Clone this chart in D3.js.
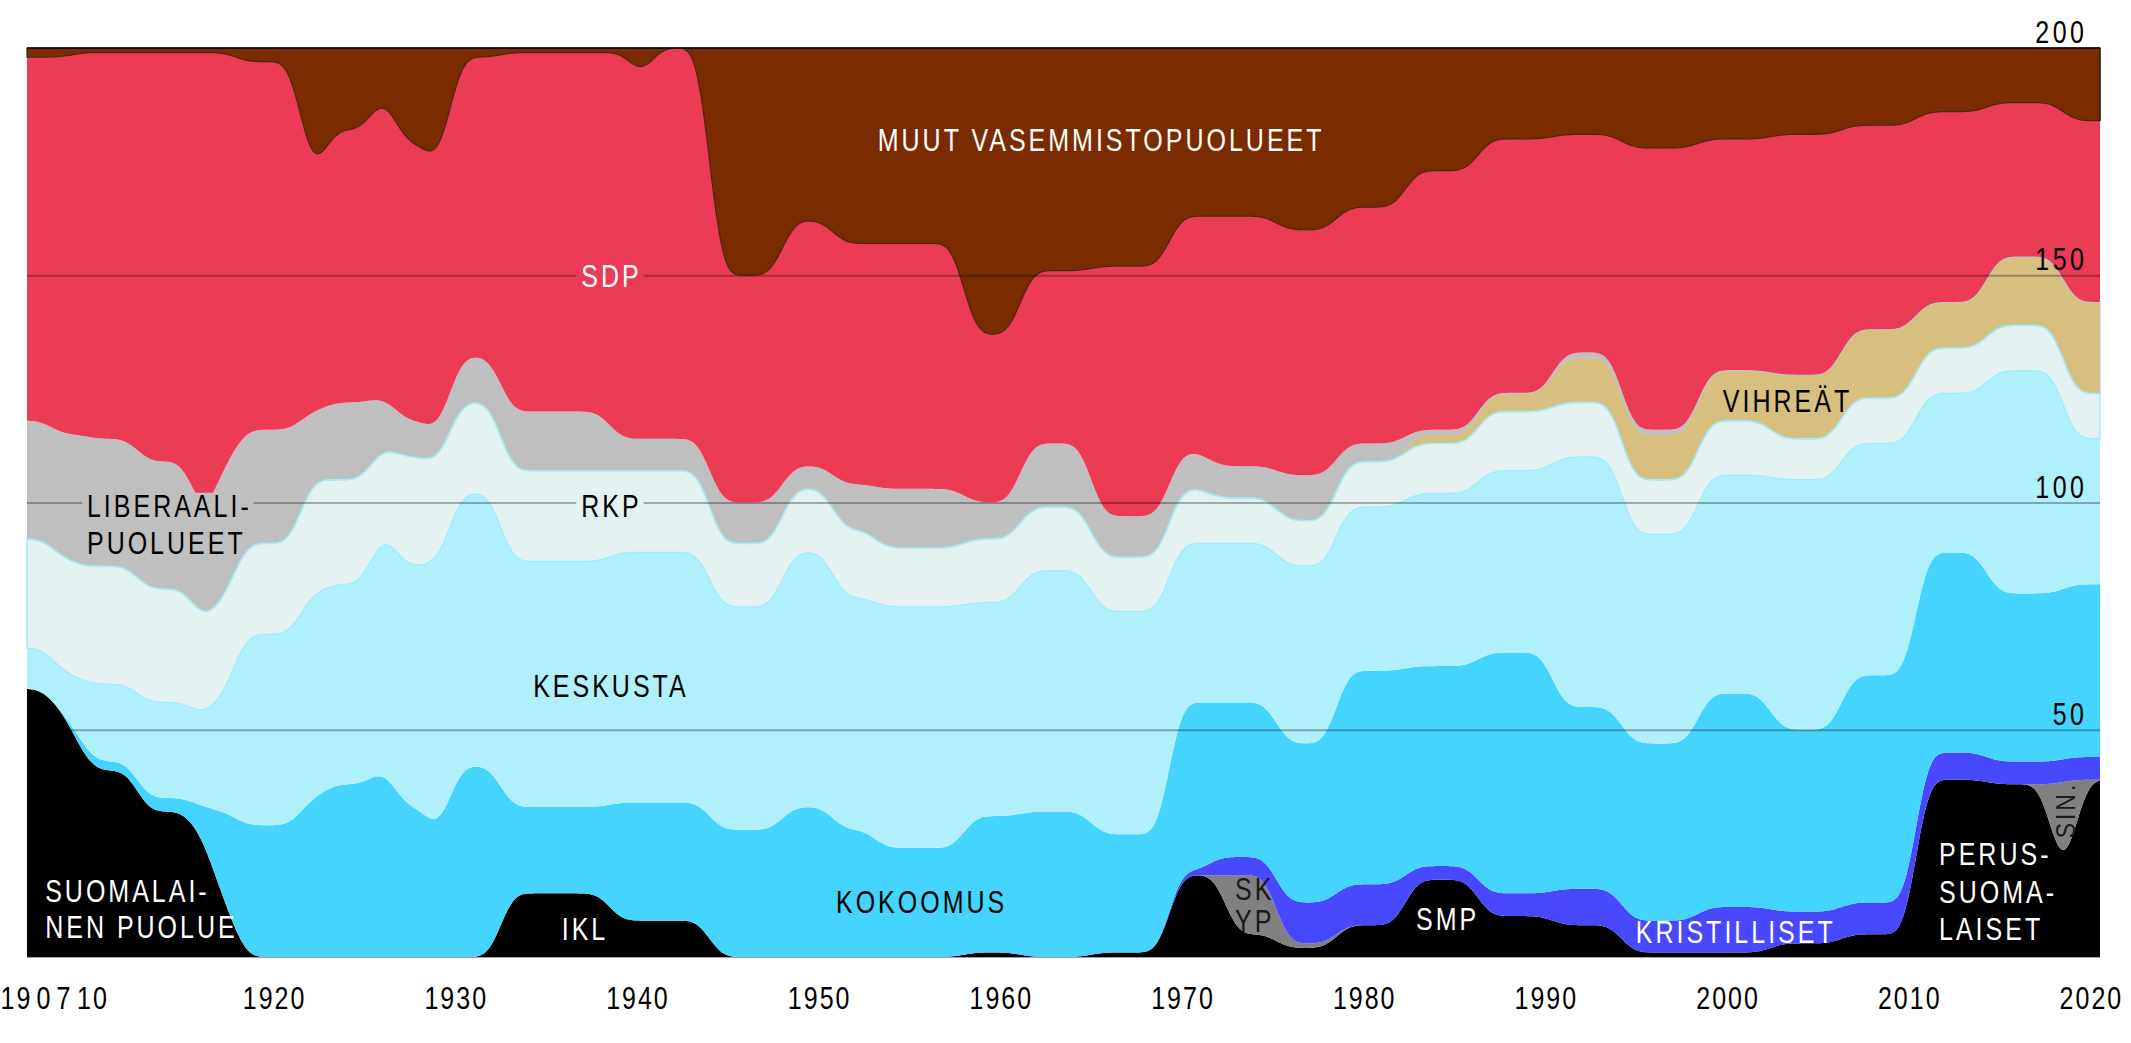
<!DOCTYPE html>
<html>
<head>
<meta charset="utf-8">
<script src="https://cdn.jsdelivr.net/npm/d3@7"></script>
<style>
html,body{margin:0;padding:0;background:#fff;}
svg{display:block;}
</style>
</head>
<body>
<svg id="chart" width="2131" height="1043"></svg>
<script>
// ---- DATA: seats in the 200-seat parliament at each change (election or split) ----
const dates = [1907.2,1908.3,1909.4,1910.2,1913.0,1916.1,1917.2,1918.4,1922.0,1923.3,1925.9,1927.2,1929.0,1930.2,
  1933.0,1939.0,1940.3,1941.2,1944.5,1948.5,1951.3,1953.6,1958.5,1961.6,1965.5,1969.8,1972.0,1972.9,1975.7,1979.0,
  1982.8,1986.8,1990.9,1994.7,1998.9,2002.9,2006.8,2010.9,2014.8,2018.33,2019.0,2019.67];
// Suomalainen puolue / IKL / SMP / Perussuomalaiset
const ps   = [59,54,46,41,32,26,12,0, 0,0,0,0,0,0, 14,8,8,8, 0,0,0,0, 1,0,1, 18,18,5,2,7, 17,9,7,1,1, 3,5,39,38, 18,19,39];
// SKYP / Sininen tulevaisuus
const sin  = [0,0,0,0,0,0,0,0, 0,0,0,0,0,0, 0,0,0,0, 0,0,0,0, 0,0,0, 0,0,13,1,0, 0,0,0,0,0, 0,0,0,0, 20,20,0];
// Kristilliset
const kd   = [0,0,0,0,0,0,0,0, 0,0,0,0,0,0, 0,0,0,0, 0,0,0,0, 0,0,0, 1,4,4,9,9, 3,5,8,7,10, 7,7,6,5, 5,5,5];
const kok  = [0,0,2,2,3,7,20,29, 35,38,41,33,28,42, 19,26,26,26, 28,33,28,24, 30,32,26, 37,34,34,35,47, 44,53,40,39,47, 40,50,44,37, 37,38,38];
const kesk = [9,9,13,17,21,20,26,42, 45,44,52,53,59,60, 54,55,55,55, 49,56,51,53, 47,53,49, 35,35,35,39,36, 38,40,55,46,48, 55,51,35,49, 49,32,32];
const rkp  = [24,25,25,26,25,21,21,20, 25,23,19,24,22,20, 20,18,18,18, 14,14,15,13, 14,14,12, 12,10,10,10,10, 11,13,12,12,12, 9,10,10,10, 10,10,10];
const vihr = [0,0,0,0,0,0,0,0, 0,0,0,0,0,0, 0,0,0,0, 0,0,0,0, 0,0,0, 0,0,0,0,0, 2,4,10,10,11, 14,15,10,15, 15,20,20];
const lib  = [26,27,29,28,28,22,29,25, 15,17,11,8,7,10, 13,7,7,7, 9,5,10,13, 8,14,9, 8,7,7,10,4, 1,0,1,1,0, 0,0,0,0, 0,0,0];
const sdp  = [80,83,84,85,90,103,91,81, 53,60,66,61,59,66, 79,85,79,86, 50,54,53,54, 37,38,55, 52,55,55,54,52, 57,56,48,62,51, 53,45,42,34, 34,40,40];
const vas  = [2,2,1,1,1,1,1,3, 27,18,11,21,25,2, 1,1,7,0, 50,38,43,43, 63,49,48, 37,37,37,40,35, 27,20,19,22,20, 19,17,14,12, 12,16,16];

const keys = ["ps","sin","kd","kok","kesk","rkp","vihr","lib","sdp","vas"];
const seriesData = {ps, sin, kd, kok, kesk, rkp, vihr, lib, sdp, vas};

const tickYears  = [1907,1910,1920,1930,1940,1950,1960,1970,1980,1990,2000,2010,2020];
const tickLabels = ["19\u200A0\u200A7","10","1920","1930","1940","1950","1960","1970","1980","1990","2000","2010","2020"];
const gridValues = [50,100,150];
const valueLabels = [50,100,150,200];

// ---- STYLE / LAYOUT ----
const colors = {ps:"#000000", sin:"#808080", kd:"#4848ff", kok:"#44d4fe", kesk:"#b0f0fc",
  rkp:"#e4f1f1", vihr:"#d7bf80", lib:"#bfbfbf", sdp:"#eb3b55", vas:"#7a2c00"};
const L = 27, R = 2100, T = 48, B = 957;
const svg = d3.select("#chart");

// font: narrow sans (fallback: horizontally compressed Liberation Sans)
const probe = svg.append("text").attr("font-size",100).attr("font-family","'Liberation Sans Narrow'").text("MMMMMMMMMM");
const wN = probe.node().getComputedTextLength();
probe.attr("font-family","'Liberation Sans'");
const wR = probe.node().getComputedTextLength();
probe.remove();
const narrowOK = wN < wR * 0.9;
const FONT = narrowOK ? "'Liberation Sans Narrow', 'Arial Narrow', sans-serif" : "'Liberation Sans', Arial, sans-serif";
const SX = narrowOK ? 1 : 0.82;
const FS = 30.5;

const x = d3.scaleLinear().domain([1906.9, 2021.0]).range([L, R]);
const y = d3.scaleLinear().domain([0, 200]).range([B, T]);

// ---- build smoothed time series (step values smoothed with a cubic B-spline kernel, 1-year knots) ----
const dt = 0.05, pad = 2;
const t0 = x.domain()[0], t1 = x.domain()[1];
const grid = d3.range(Math.round((t1 - t0 + 2*pad)/dt) + 1).map(i => t0 - pad + i*dt);
const kr = Math.round(2/dt);
const kern = d3.range(-kr, kr+1).map(k => {
  const u = Math.abs(k*dt);
  return u < 1 ? 2/3 - u*u + u*u*u/2 : (u < 2 ? Math.pow(2-u,3)/6 : 0);
});
const ksum = d3.sum(kern);
const stepIndex = grid.map(t => Math.max(0, d3.bisectRight(dates, t) - 1));
const raw = {};
keys.forEach(k => raw[k] = stepIndex.map(i => seriesData[k][i]));
const rows = [];
for (let j = kr; j < grid.length - kr; j++) {
  const row = {t: grid[j]};
  keys.forEach(k => {
    let s = 0;
    for (let m = 0; m < kern.length; m++) s += kern[m] * raw[k][j - kr + m];
    row[k] = s / ksum;
  });
  rows.push(row);
}

const stacked = d3.stack().keys(keys)(rows);
const area = d3.area()
  .x(d => x(d.data.t))
  .y0(d => y(d[0]))
  .y1(d => y(d[1]))
  .curve(d3.curveLinear);

const gAreas = svg.append("g");
gAreas.selectAll("path.layer").data(stacked).join("path")
  .attr("class","layer")
  .attr("d", area)
  .attr("fill", d => colors[d.key]);

// edge strokes seen in the reference
const strokes = {vihr:["#b9c6cf",1.2], rkp:["#a2ecfa",1.5], vas:["#4a2410",1.2]};
["vihr","rkp","vas"].forEach(k => {
  const s = stacked.find(d => d.key === k);
  gAreas.append("path").attr("d", area(s)).attr("fill","none")
    .attr("stroke", strokes[k][0]).attr("stroke-width", strokes[k][1]);
});

// grid lines
const gGrid = svg.append("g").attr("transform", `translate(${L},0)`)
  .call(d3.axisLeft(y).tickValues(gridValues).tickSize(-(R - L)).tickFormat(""));
gGrid.select(".domain").remove();
gGrid.selectAll("line").attr("stroke","#000").attr("stroke-opacity",0.3).attr("stroke-width",2);

// frame
svg.append("line").attr("x1",L).attr("x2",R).attr("y1",T).attr("y2",T).attr("stroke","#000").attr("stroke-width",1.5);
svg.append("line").attr("x1",L).attr("x2",R).attr("y1",B+0.5).attr("y2",B+0.5).attr("stroke","#a0a0a0").attr("stroke-width",1);
svg.append("line").attr("x1",R).attr("x2",R).attr("y1",T).attr("y2",y(184)).attr("stroke","#222").attr("stroke-width",1.2);

// x axis labels
const gx = svg.append("g").attr("transform","translate(0,1009)")
  .call(d3.axisBottom(x).tickValues(tickYears.map(v => v + 0.5)).tickFormat((d,i) => tickLabels[i]).tickSize(0));
gx.select(".domain").remove();
gx.selectAll("text")
  .attr("y",0).attr("dy",0)
  .attr("font-family",FONT).attr("font-size",FS).attr("fill","#000")
  .attr("letter-spacing", 2/SX)
  .attr("transform", `scale(${SX},1)`);
gx.selectAll("text").filter((d,i) => i === 0).attr("x", -2/SX);

// right value labels
const gy = svg.append("g").attr("transform", `translate(${2084 + 3.5},0)`)
  .call(d3.axisLeft(y).tickValues(valueLabels).tickSize(0).tickPadding(0));
gy.select(".domain").remove();
gy.selectAll("text")
  .attr("x",0).attr("dy",-5.5)
  .attr("font-family",FONT).attr("font-size",FS).attr("fill","#000")
  .attr("letter-spacing", 3.5/SX)
  .attr("transform", `scale(${SX},1)`);

// ---- party labels ----
const labelTexts = ["MUUT VASEMMISTOPUOLUEET","SDP","RKP","LIBERAALI-","PUOLUEET","KESKUSTA","KOKOOMUS","IKL",
  "SUOMALAI-","NEN PUOLUE","SK","YP","SMP","KRISTILLISET","VIHREÄT","PERUS-","SUOMA-","LAISET","SIN."];
const labelPos = [
  {yr:1966.02, s:177.3, a:"middle", c:"#fff"},
  {yr:1939.07, s:147.4, a:"middle", c:"#fff", bg:colors.sdp},
  {yr:1939.07, s:96.7,  a:"middle", c:"#000", bg:colors.rkp},
  {yr:1910.2,  s:96.8,  a:"start",  c:"#000", bg:colors.lib},
  {yr:1910.2,  s:88.7,  a:"start",  c:"#000"},
  {yr:1939.04, s:57.2,  a:"middle", c:"#000"},
  {yr:1956.14, s:9.7,   a:"middle", c:"#000"},
  {yr:1937.61, s:3.85,  a:"middle", c:"#fff"},
  {yr:1907.9,  s:12.1,  a:"start",  c:"#fff"},
  {yr:1907.9,  s:4.18,  a:"start",  c:"#fff"},
  {yr:1973.39, s:12.54, a:"start",  c:"#1a1a1a"},
  {yr:1973.39, s:5.5,   a:"start",  c:"#1a1a1a"},
  {yr:1985.09, s:6.05,  a:"middle", c:"#fff"},
  {yr:2000.95, s:3.08,  a:"middle", c:"#fff"},
  {yr:2003.8,  s:119.9, a:"middle", c:"#000"},
  {yr:2012.14, s:20.24, a:"start",  c:"#fff"},
  {yr:2012.14, s:11.88, a:"start",  c:"#fff"},
  {yr:2012.14, s:3.74,  a:"start",  c:"#fff"},
  {yr:2019.63, s:32.34, a:"middle", c:"#1a1a1a", rot:-90, size:28}
];
const gLab = svg.append("g");
labelTexts.forEach((txt, i) => {
  const p = labelPos[i];
  const ls = 3;
  const g = gLab.append("g").attr("transform",
    `translate(${x(p.yr)},${y(p.s)})` + (p.rot ? ` rotate(${p.rot})` : "") + ` scale(${SX},1)`);
  const t = g.append("text").attr("x",0).attr("y",0)
    .attr("text-anchor", p.a)
    .attr("font-family", FONT).attr("font-size", p.size || FS)
    .attr("letter-spacing", ls/SX)
    .attr("fill", p.c).text(txt);
  if (p.bg) {
    const b = t.node().getBBox();
    const px = 5/SX;
    g.insert("rect","text")
      .attr("x", b.x - px).attr("y", b.y + 3)
      .attr("width", b.width - ls/SX + 2*px).attr("height", b.height - 6)
      .attr("fill", p.bg);
  }
});
</script>
</body>
</html>
